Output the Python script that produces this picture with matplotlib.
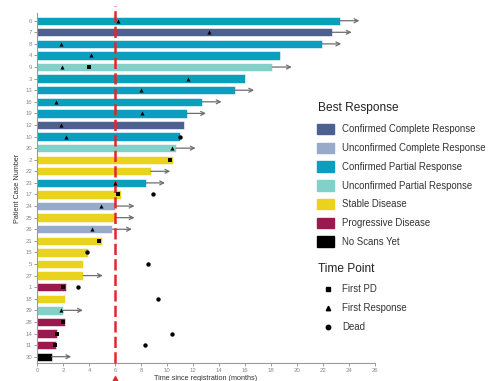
import matplotlib
matplotlib.use("Agg")
import matplotlib.pyplot as plt
from matplotlib.patches import Rectangle
from matplotlib.lines import Line2D
from matplotlib.transforms import blended_transform_factory

plt.rcParams['font.family'] = ['Liberation Sans', 'DejaVu Sans']

# ---- data ----
patients = ["6", "7", "8", "4", "9", "3", "13", "16", "19", "12",
            "10", "20", "2", "22", "23", "17", "24", "25", "26", "21",
            "15", "5", "27", "1", "18", "29", "28", "14", "11", "30"]
best_response = ["CPR", "CCR", "CPR", "CPR", "UPR", "CPR", "CPR", "CPR", "CPR", "CCR",
                 "CPR", "UPR", "SD", "SD", "CPR", "SD", "UCR", "SD", "UCR", "SD",
                 "SD", "SD", "SD", "PD", "SD", "UPR", "PD", "PD", "PD", "NSY"]
months_on_study = [23.3, 22.7, 21.9, 18.7, 18.1, 16.0, 15.2, 12.7, 11.5, 11.3,
                   11.0, 10.7, 10.45, 8.75, 8.35, 6.45, 6.0, 6.0, 5.8, 4.97,
                   3.95, 3.56, 3.56, 2.23, 2.15, 2.03, 2.15, 1.56, 1.46, 1.13]
ongoing = ["6", "7", "8", "9", "13", "16", "19", "20", "22", "23",
           "24", "25", "26", "27", "29", "30"]

first_response = {"6": 6.2, "7": 13.2, "8": 1.85, "4": 4.15, "9": 1.95, "3": 11.6,
                  "13": 8.0, "16": 1.45, "19": 8.1, "12": 1.85, "10": 2.2, "20": 10.4,
                  "23": 6.0, "24": 4.9, "26": 4.2, "29": 1.85}
first_pd = {"9": 4.0, "2": 10.2, "17": 6.25, "21": 4.75, "1": 1.97, "28": 2.0,
            "14": 1.5, "11": 1.4}
dead = {"10": 11.0, "17": 8.9, "15": 3.87, "5": 8.56, "1": 3.18, "18": 9.33,
        "14": 10.35, "11": 8.3}

categories = ["CCR", "UCR", "CPR", "UPR", "SD", "PD", "NSY"]
category_labels = ["Confirmed Complete Response", "Unconfirmed Complete Response",
                   "Confirmed Partial Response", "Unconfirmed Partial Response",
                   "Stable Disease", "Progressive Disease", "No Scans Yet"]
colors = {"CCR": "#4d6190", "UCR": "#97aac9", "CPR": "#0a9fbd", "UPR": "#82d1c8",
          "SD": "#ead31f", "PD": "#9a1a4f", "NSY": "#000000"}

x_ticks = list(range(0, 27, 2))
registration_cutoff = 6.0
arrow_length = 1.5

# ---- figure ----
W, H = 488, 381
fig = plt.figure(figsize=(W / 100, H / 100), dpi=100)
ax = fig.add_axes([37 / W, 1 - 362.7 / H, (375 - 37) / W, (362.7 - 13.3) / H])

rows = list(range(len(patients)))
bar_colors = [colors[r] for r in best_response]
ax.barh(rows, months_on_study, height=0.72, color=bar_colors,
        edgecolor="white", linewidth=0.4, zorder=2)

for i, p in enumerate(patients):
    if p in ongoing:
        ax.annotate("", xy=(months_on_study[i] + arrow_length, i),
                    xytext=(months_on_study[i], i),
                    arrowprops=dict(arrowstyle="->", color="#6e6e6e", lw=0.9,
                                    mutation_scale=7, shrinkA=0, shrinkB=0),
                    zorder=3)

idx = {p: i for i, p in enumerate(patients)}
ax.scatter(list(first_response.values()), [idx[p] for p in first_response],
           marker="^", s=9, color="black", zorder=5, linewidths=0)
ax.scatter(list(first_pd.values()), [idx[p] for p in first_pd],
           marker="s", s=9, color="black", zorder=5, linewidths=0)
ax.scatter(list(dead.values()), [idx[p] for p in dead],
           marker="o", s=10, color="black", zorder=5, linewidths=0)

# registration cutoff line
ax.axvline(registration_cutoff, ymin=0, ymax=1.02, color="#e3262b", lw=1.8,
           linestyle=(0, (4.5, 1.7)), zorder=4, clip_on=False)
btrans = blended_transform_factory(ax.transData, ax.transAxes)
ax.plot([registration_cutoff], [-0.047], marker="^", color="#e3262b",
        markersize=5, transform=btrans, clip_on=False, zorder=6)

ax.set_xlim(0, 26)
ax.set_ylim(len(patients) - 0.48, -0.64)
ax.set_yticks(rows)
ax.set_yticklabels(patients)
ax.set_xticks(x_ticks)
ax.tick_params(axis="both", labelsize=4.3, colors="#8a8a8a", length=2, width=0.6,
               pad=1.5)
for s in ["top", "right"]:
    ax.spines[s].set_visible(False)
for s in ["left", "bottom"]:
    ax.spines[s].set_color("#9a9a9a")
    ax.spines[s].set_linewidth(0.8)
ax.set_xlabel("Time since registration (months)", fontsize=5.2, color="#333333",
              labelpad=2)
ax.set_ylabel("Patient Case Number", fontsize=5.2, color="#333333", labelpad=3)

# ---- legend ----
def fx(px):
    return px / W

def fy(py):
    return 1 - py / H

fig.text(fx(318), fy(107.5), "Best Response", fontsize=8.6, color="#222222",
         va="center", ha="left")
ys = [129, 148, 166.8, 185.6, 204.4, 223, 241.8]
for c, lab, y in zip(categories, category_labels, ys):
    fig.patches.append(Rectangle((fx(317), fy(y + 5)), 17 / W, 10.5 / H,
                                 transform=fig.transFigure, color=colors[c]))
    fig.text(fx(342), fy(y), lab, fontsize=6.9, color="#333333",
             va="center", ha="left")

fig.text(fx(318), fy(268.5), "Time Point", fontsize=8.6, color="#222222",
         va="center", ha="left")
tp = [("s", "First PD", 289.3), ("^", "First Response", 308.3), ("o", "Dead", 327.3)]
for m, lab, y in tp:
    fig.lines.append(Line2D([fx(328)], [fy(y)], marker=m, markersize=3.2,
                            color="black", linestyle="none",
                            transform=fig.transFigure))
    fig.text(fx(342), fy(y), lab, fontsize=6.9, color="#333333",
             va="center", ha="left")

fig.savefig("out.png", dpi=100)
